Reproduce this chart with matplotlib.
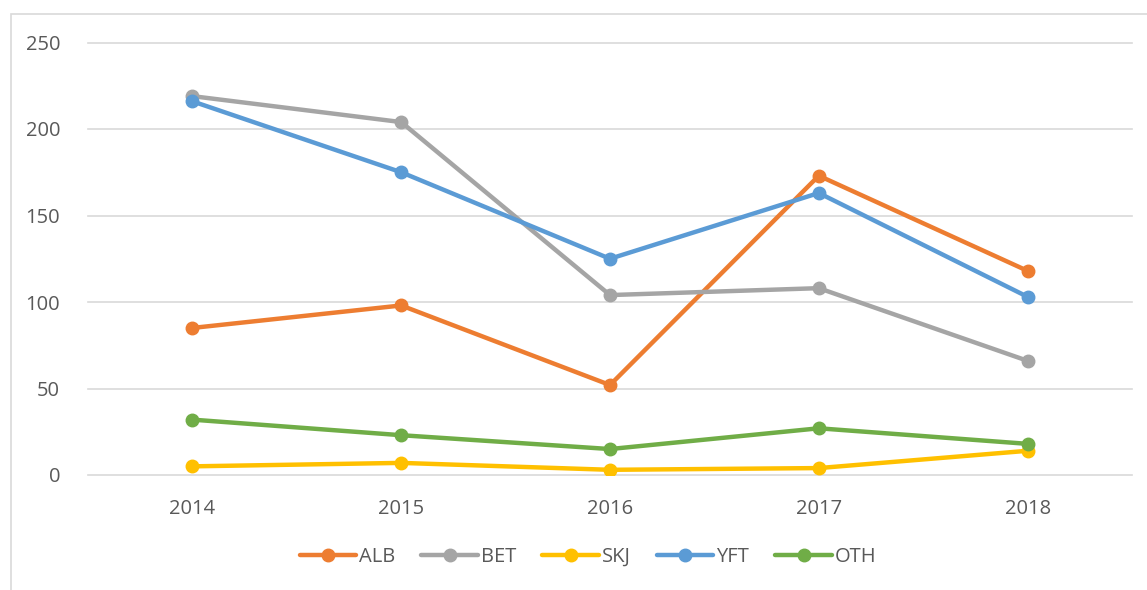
import matplotlib.pyplot as plt
from matplotlib.patches import Rectangle

years = ["2014", "2015", "2016", "2017", "2018"]
alb = [85, 98, 52, 173, 118]
bet = [219, 204, 104, 108, 66]
skj = [5, 7, 3, 4, 14]
yft = [216, 175, 125, 163, 103]
oth = [32, 23, 15, 27, 18]

series = [
    ("ALB", alb, "#ED7D31"),
    ("BET", bet, "#A5A5A5"),
    ("SKJ", skj, "#FFC000"),
    ("YFT", yft, "#5B9BD5"),
    ("OTH", oth, "#70AD47"),
]

plt.rcParams['font.family'] = ['Open Sans', 'DejaVu Sans']

fig = plt.figure(figsize=(11.47, 5.9), dpi=100)
W, H = 1147, 590
ax = fig.add_axes([88 / W, 1 - 475 / H, (1132 - 88) / W, (475 - 42.5) / H])

# chart area border (cut off on right and bottom)
fig.patches.append(Rectangle((11 / W, -0.1), 1.2, 1.1 - 14 / H, transform=fig.transFigure,
                             fill=False, edgecolor="#d9d9d9", linewidth=1.2))

x = list(range(len(years)))
for name, vals, col in series:
    ax.plot(x, vals, color=col, linewidth=3.2, marker="o", markersize=9,
            solid_capstyle="round", label=name)

ax.set_xlim(-0.5, 4.5)
ax.set_ylim(0, 250)
ax.set_yticks(range(0, 251, 50))
ax.set_xticks(x)
ax.set_xticklabels(years)
ax.grid(True, axis="y", color="#d9d9d9", linewidth=1.2)
for gl in ax.get_ygridlines():
    gl.set_clip_on(False)
ax.set_axisbelow(True)
for s in ax.spines.values():
    s.set_visible(False)
ax.tick_params(axis="both", length=0, labelsize=14.5, labelcolor="#595959")
ax.tick_params(axis="y", pad=20)
ax.tick_params(axis="x", pad=17)

ax.legend(loc="center", bbox_to_anchor=(588 / W, 1 - 557 / H), bbox_transform=fig.transFigure,
          ncol=5, frameon=False, fontsize=14.5, handlelength=2.8, handletextpad=0.15,
          columnspacing=1.3, labelcolor="#595959")

fig.savefig("out.png", dpi=100)
